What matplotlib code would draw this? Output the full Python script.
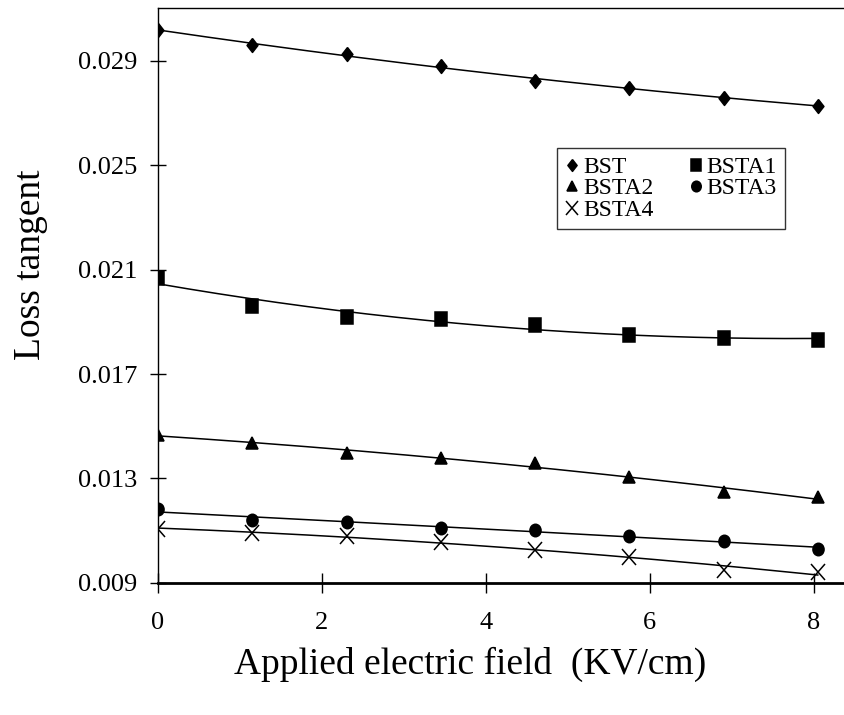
import numpy as np
import matplotlib
matplotlib.use('Agg')
import matplotlib.pyplot as plt
from matplotlib.markers import MarkerStyle
from matplotlib.transforms import Affine2D

plt.rcParams['font.family'] = ['Liberation Serif', 'DejaVu Serif']

# applied field (KV/cm)
field = [0, 1.15, 2.3, 3.45, 4.6, 5.75, 6.9, 8.05]

bst   = [0.0302, 0.0296, 0.02928, 0.0288, 0.02822, 0.02798, 0.02758, 0.02729]
bsta1 = [0.02069, 0.01961, 0.01919, 0.01911, 0.01889, 0.01851, 0.01838, 0.0183]
bsta2 = [0.01466, 0.01437, 0.01398, 0.01377, 0.0136, 0.01306, 0.01247, 0.01227]
bsta3 = [0.01181, 0.01140, 0.01132, 0.01111, 0.01101, 0.01080, 0.01060, 0.01030]
bsta4 = [0.01107, 0.01092, 0.01079, 0.01057, 0.01025, 0.00999, 0.00948, 0.00940]

names = ['BST', 'BSTA1', 'BSTA2', 'BSTA3', 'BSTA4']
series = [bst, bsta1, bsta2, bsta3, bsta4]

# markers, a bit taller than wide like the original
stretch = Affine2D().scale(1, 1.2)
diamond = MarkerStyle([(0, 1), (0.78, 0), (0, -1), (-0.78, 0), (0, 1)])
mk = [diamond,
      MarkerStyle('s', transform=stretch),
      MarkerStyle('^', transform=Affine2D().scale(1, 1.05)),
      MarkerStyle('o', transform=Affine2D().scale(1, 1.12)),
      MarkerStyle('x', transform=stretch)]
ms = [10.0, 8.0, 8.0, 8.0, 10.0]

fig = plt.figure(figsize=(8.44, 7.15), dpi=100)
ax = fig.add_axes([158/844, 1 - 582.7/715, 1 - 158/844, (582.7 - 8)/715])

xs = np.linspace(0, field[-1], 200)
handles = []
for name, y, m, s in zip(names, series, mk, ms):
    c = np.polyfit(field, y, 2)
    ax.plot(xs, np.polyval(c, xs), color='black', lw=1.1)
    h, = ax.plot(field, y, ls='none', marker=m, ms=s, color='black',
                 mew=1.1, label=name)
    handles.append(h)

ax.set_xlim(0, 8.37)
ax.set_ylim(0.009, 0.03103)
ax.set_xticks([0, 2, 4, 6, 8])
ax.set_yticks([0.009, 0.013, 0.017, 0.021, 0.025, 0.029])
ax.set_yticklabels(['0.009', '0.013', '0.017', '0.021', '0.025', '0.029'])

ax.spines['right'].set_visible(False)
ax.spines['left'].set_linewidth(1.0)
ax.spines['top'].set_linewidth(1.0)
ax.spines['bottom'].set_linewidth(2.0)
ax.tick_params(axis='y', direction='inout', length=12, width=1.0, pad=9, labelsize=19)
ax.tick_params(axis='x', direction='inout', length=14, width=1.0, pad=14, labelsize=19)

ax.set_xlabel('Applied electric field  (KV/cm)', fontsize=27)
ax.set_ylabel('Loss tangent', fontsize=27)
ax.xaxis.set_label_coords(0.455, -0.112)
ax.yaxis.set_label_coords(-0.16, 0.554)

order = [0, 2, 4, 1, 3]
leg = ax.legend([handles[i] for i in order], [names[i] for i in order],
                ncol=2, loc='upper left', bbox_to_anchor=(0.5816, 0.7564),
                borderaxespad=0, fontsize=17, frameon=True, fancybox=False,
                edgecolor='black', handlelength=0.6, handletextpad=0.15,
                labelspacing=0.0, columnspacing=1.5, borderpad=0.35,
                markerscale=0.85)
leg.get_frame().set_linewidth(1.0)

fig.savefig('out.png', dpi=100)
